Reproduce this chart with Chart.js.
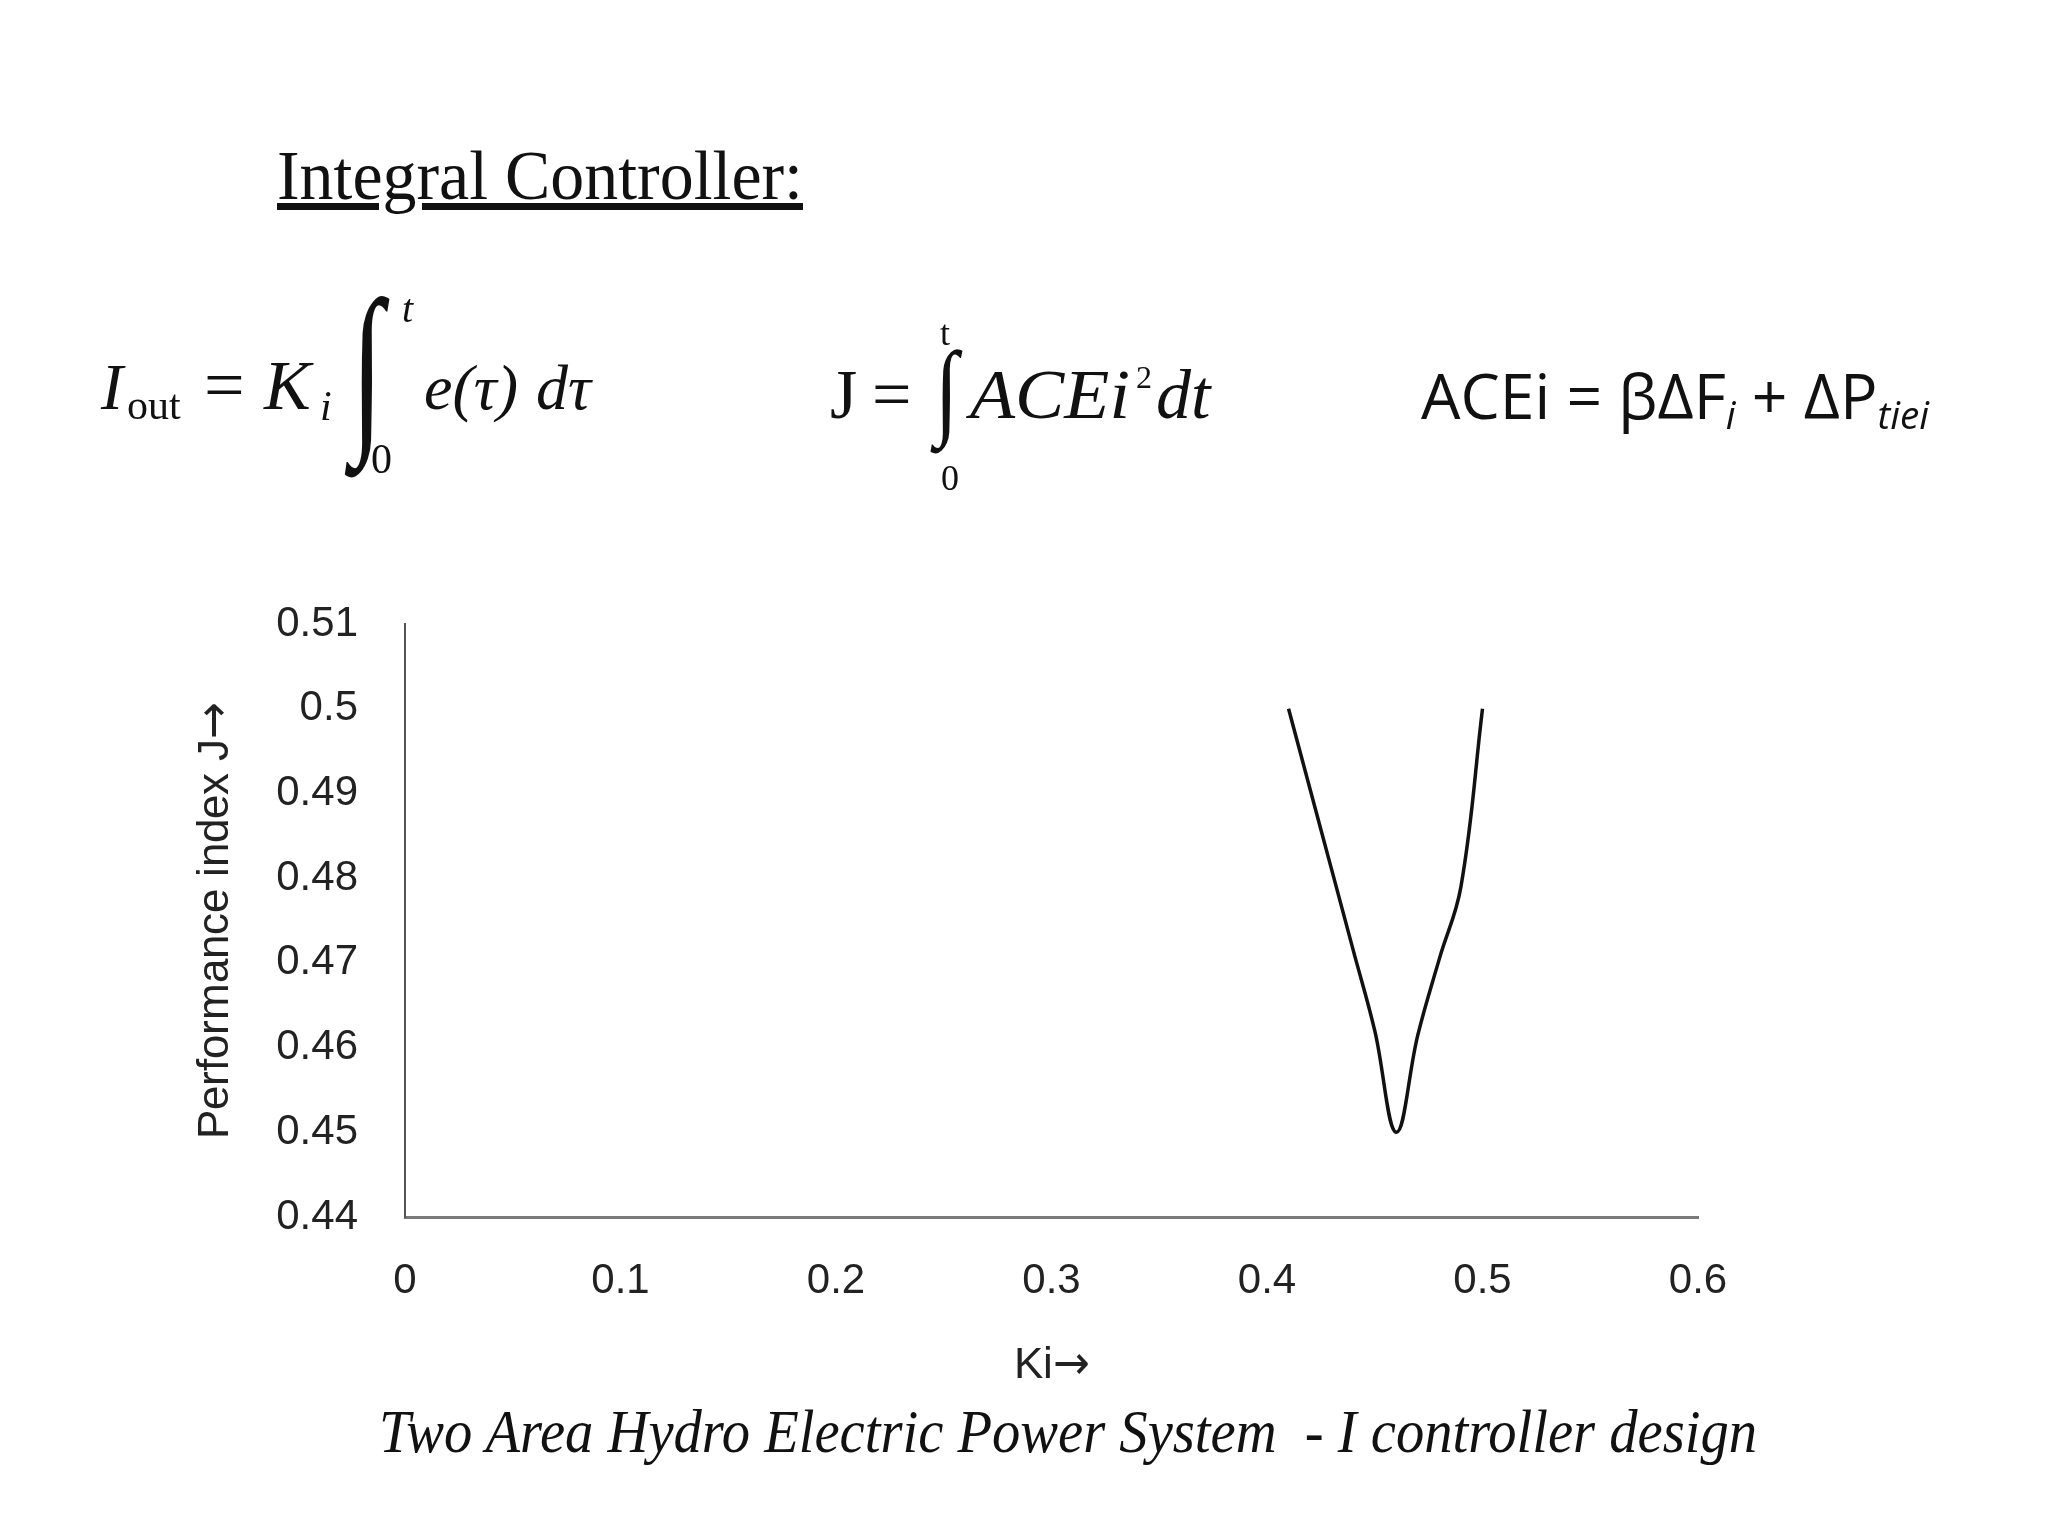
<!DOCTYPE html>
<html>
<head>
<meta charset="utf-8">
<script src="https://cdn.jsdelivr.net/npm/chart.js@4"></script>
<style>
  @font-face { font-family: 'AxisFont'; src: local('Liberation Sans'); }
  @font-face { font-family: 'AxisFont'; src: local('DejaVu Sans'); unicode-range: U+2192; }
  html, body { margin: 0; padding: 0; background: #fff; }
  #wrap { position: relative; width: 2048px; height: 1536px; overflow: hidden; }
  #chart { position: absolute; left: 0; top: 0; }
  .t { position: absolute; white-space: pre; color: #111; }
</style>
</head>
<body>
<div id="wrap">
  <canvas id="chart" width="2048" height="1536"></canvas>
</div>
<script>
// values
const kiValues = [0.41, 0.42, 0.43, 0.44, 0.45, 0.46, 0.47, 0.48, 0.49, 0.50];
const jValues = [0.500, 0.4905, 0.481, 0.4715, 0.462, 0.450, 0.4615, 0.4705, 0.479, 0.500];

const xTicks = [0, 0.1, 0.2, 0.3, 0.4, 0.5, 0.6];
const xTickLabels = ['0', '0.1', '0.2', '0.3', '0.4', '0.5', '0.6'];
const yTicks = [0.44, 0.45, 0.46, 0.47, 0.48, 0.49, 0.50, 0.51];
const yTickLabels = ['0.44', '0.45', '0.46', '0.47', '0.48', '0.49', '0.5', '0.51'];

const SERIF = "'Liberation Serif', 'Times New Roman', serif";
const SANS = "'Open Sans', sans-serif";
const wrap = document.getElementById('wrap');

// place a text so its baseline sits at `base`
function put(text, x, base, size, font, opts = {}) {
  const s = document.createElement('span');
  s.className = 't';
  s.style.font = (opts.italic ? 'italic ' : '') + size + 'px ' + font;
  s.style.lineHeight = '1';
  if (opts.underline) s.style.textDecoration = 'underline';
  if (opts.html) s.innerHTML = text; else s.textContent = text;
  const m = document.createElement('i');
  m.style.cssText = 'display:inline-block;width:0;height:0';
  s.appendChild(m);
  wrap.appendChild(s);
  s.style.left = x + 'px';
  s.style.top = '0px';
  const off = m.getBoundingClientRect().top - s.getBoundingClientRect().top;
  s.style.top = (base - off) + 'px';
  s.baseOff = off;
  if (opts.width) {
    const w = s.getBoundingClientRect().width;
    s.style.transformOrigin = 'left bottom';
    s.style.transform = 'scaleX(' + (opts.width / w) + ')';
  }
  return s;
}

// integral sign fitted to an ink box: width sets the size, height is stretched
function integral(left, right, top, bottom, font, italic) {
  const c = document.createElement('canvas').getContext('2d');
  c.font = (italic ? 'italic ' : '') + '100px ' + font;
  const mt = c.measureText('\u222B');
  const a = mt.actualBoundingBoxAscent, d = mt.actualBoundingBoxDescent;
  const inkW = mt.actualBoundingBoxLeft + mt.actualBoundingBoxRight;
  const size = 100 * (right - left) / inkW;
  const k = size / 100;
  const sy = (bottom - top) / ((a + d) * k);
  const s = put('\u222B', left + mt.actualBoundingBoxLeft * k, 0, size, font, { italic });
  const inkTopInSpan = s.baseOff - a * k;
  s.style.transformOrigin = 'left top';
  s.style.transform = 'scaleY(' + sy + ')';
  s.style.top = (top - sy * inkTopInSpan) + 'px';
  return s;
}

// heading
put('Integral Controller:', 277, 199, 70, SERIF, { underline: true, width: 526 });

// I_out = K_i ∫0^t e(τ) dτ
put('I', 101, 409, 66, SERIF, { italic: true });
put('out', 127, 419, 42, SERIF);
put('=', 204, 409, 72, SERIF);
put('K', 264, 409, 70, SERIF, { italic: true });
put('i', 320, 420, 42, SERIF, { italic: true });
integral(344, 390, 294, 477, SERIF, true);
put('t', 402, 322, 40, SERIF, { italic: true });
put('0', 371, 473, 42, SERIF);
put('e(\u03C4)', 424, 409, 64, SERIF, { italic: true });
put('d\u03C4', 536, 409, 64, SERIF, { italic: true });

// J = ∫0^t ACEi² dt
put('J', 830, 418, 70, SERIF);
put('=', 872, 418, 70, SERIF);
integral(930, 963, 348, 453, SERIF, false);
put('t', 940, 345, 36, SERIF);
put('0', 941, 490, 36, SERIF);
put('ACEi', 970, 418, 70, SERIF, { italic: true, width: 160 });
put('2', 1136, 388, 32, SERIF);
put('dt', 1156, 418, 70, SERIF, { italic: true });

// ACEi = βΔF_i + ΔP_tiei
put('ACEi = \u03B2\u0394F<sub style="font-style:italic;font-size:0.62em;vertical-align:-0.25em">i</sub> + \u0394P<sub style="font-style:italic;font-size:0.62em;vertical-align:-0.25em">tiei</sub>',
  1421, 419, 62, SANS, { html: true, width: 508 });

// caption
put('Two Area Hydro Electric Power System\u00A0 - I controller design', 379, 1452, 62, SERIF, { italic: true, width: 1378 });

const axisFont = { family: "'Liberation Sans', Arial, sans-serif", size: 42 };
const titleFont = { family: "AxisFont, 'Liberation Sans', Arial, sans-serif", size: 44 };

function drawChart() {
  new Chart(document.getElementById('chart'), {
    type: 'line',
    data: {
      datasets: [{
        data: kiValues.map((k, i) => ({ x: k, y: jValues[i] })),
        borderColor: '#111',
        borderWidth: 3.5,
        pointRadius: 0,
        tension: 0.4,
        fill: false
      }]
    },
    options: {
      responsive: false,
      animation: false,
      layout: { padding: { left: 150, top: 624, right: 350, bottom: 139 } },
      plugins: { legend: { display: false }, tooltip: { enabled: false } },
      scales: {
        x: {
          type: 'linear',
          min: 0,
          max: 0.6,
          afterFit(s) { s.height = 180; },
          afterBuildTicks(s) { s.ticks = xTicks.map(v => ({ value: v })); },
          ticks: {
            callback: (v, i) => xTickLabels[i],
            padding: 39,
            font: axisFont,
            color: '#222',
            maxRotation: 0,
            autoSkip: false
          },
          grid: { display: false, drawTicks: false },
          border: { display: true, color: '#7a7a7a', width: 3 },
          title: { display: true, text: 'Ki\u2192', font: titleFont, color: '#222', padding: { top: 0, bottom: 5 } }
        },
        y: {
          min: 0.44,
          max: 0.51,
          afterFit(s) { s.width = 255; },
          afterBuildTicks(s) { s.ticks = yTicks.map(v => ({ value: v })); },
          ticks: {
            callback: (v, i) => yTickLabels[i],
            padding: 47,
            font: axisFont,
            color: '#222',
            autoSkip: false
          },
          grid: { display: false, drawTicks: false },
          border: { display: true, color: '#555', width: 2 },
          title: { display: true, text: 'Performance index J\u2192', font: titleFont, color: '#222', padding: { top: 39, bottom: 0 } }
        }
      }
    }
  });
}

Promise.all([
  document.fonts.load("44px AxisFont", "Ki\u2192"),
]).then(drawChart, drawChart);
</script>
</body>
</html>
